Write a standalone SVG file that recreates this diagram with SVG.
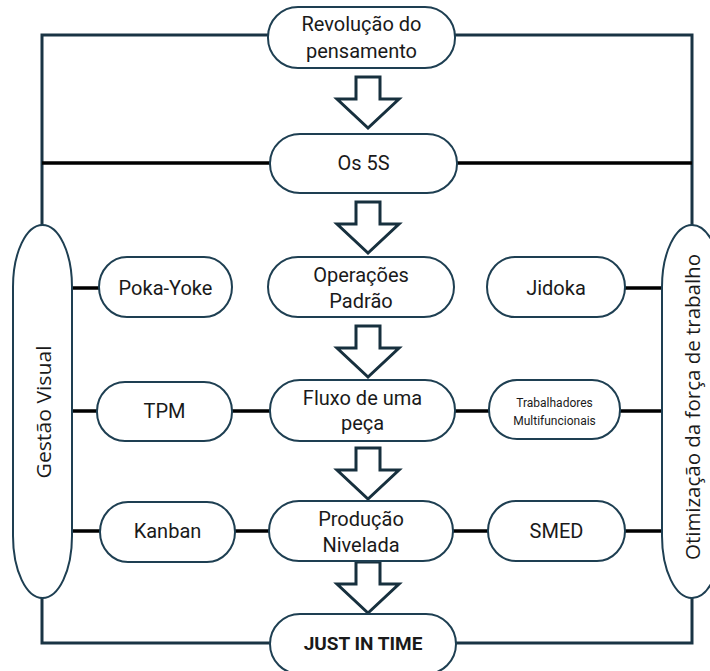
<svg xmlns="http://www.w3.org/2000/svg" width="710" height="671" viewBox="0 0 710 671">
  <style>
    .bg { fill: #ffffff; }
    .node { fill: #ffffff; stroke: #1e3f52; stroke-width: 2; }
    .pillar { fill: #ffffff; stroke: #1e3f52; stroke-width: 2; }
    .frame { fill: none; stroke: #1a3444; stroke-width: 3; }
    .link { fill: none; stroke: #000000; stroke-width: 3.5; }
    .flow { fill: #ffffff; stroke: #17303e; stroke-width: 3; stroke-linejoin: miter; }
    .lbl { font-family: Roboto, "Liberation Sans", sans-serif; font-size: 20px; fill: #1a1a1a; text-anchor: middle; }
    .small { font-size: 12px; }
    .bold { font-weight: bold; font-size: 19px; }
    .side { font-family: "Open Sans", "Liberation Sans", sans-serif; font-size: 20px; fill: #1a1a1a; text-anchor: middle; }
  </style>
  <defs>
    <!-- block arrow pointing down, origin at shaft top centre -->
    <path id="down" d="M-12,0 H12 V22 H31 L0,51 L-31,22 H-12 Z"/>
  </defs>
  <rect class="bg" width="710" height="671"/>

  <!-- connectors -->
  <g id="connectors">
    <path class="frame" d="M42,226 V35 H268 M455,35 H692 V226"/>
    <path class="frame" d="M42,597 V643 H270 M456,643 H692 V597"/>
    <path class="link" d="M42,163 H270 M457,163 H692"/>
    <path class="link" d="M72,288 H99 M625,288 H662"/>
    <path class="link" d="M72,411 H97 M232,411 H270 M455,411 H489 M620,411 H662"/>
    <path class="link" d="M72,531 H100 M235,531 H269 M453,531 H488 M625,531 H662"/>
    <use href="#down" class="flow" x="368" y="77"/>
    <use href="#down" class="flow" x="368" y="202"/>
    <use href="#down" class="flow" x="368" y="326"/>
    <use href="#down" class="flow" x="368" y="448"/>
    <use href="#down" class="flow" x="368" y="562"/>
  </g>

  <g id="gestao-visual">
    <rect class="pillar" x="13" y="225" width="59" height="373" rx="29.5" ry="62"/>
    <text class="side" transform="translate(51,412) rotate(-90)" textLength="133" lengthAdjust="spacingAndGlyphs">Gestão Visual</text>
  </g>
  <g id="otimizacao">
    <rect class="pillar" x="662" y="225" width="60" height="373" rx="30" ry="62"/>
    <text class="side" transform="translate(700,407) rotate(-90)" textLength="306" lengthAdjust="spacingAndGlyphs">Otimização da força de trabalho</text>
  </g>

  <g id="revolucao">
    <rect class="node" x="268" y="7" width="187" height="61" rx="30" ry="30"/>
    <text class="lbl" x="361.5" y="31">Revolução do</text>
    <text class="lbl" x="361.5" y="58">pensamento</text>
  </g>
  <g id="os5s">
    <rect class="node" x="270" y="134" width="187" height="59" rx="30" ry="29"/>
    <text class="lbl" x="363.5" y="170">Os 5S</text>
  </g>
  <g id="poka-yoke">
    <rect class="node" x="99" y="257" width="133" height="60" rx="28" ry="30"/>
    <text class="lbl" x="165.5" y="295">Poka-Yoke</text>
  </g>
  <g id="operacoes">
    <rect class="node" x="268" y="257" width="186" height="60" rx="30" ry="30"/>
    <text class="lbl" x="361" y="282">Operações</text>
    <text class="lbl" x="361" y="308">Padrão</text>
  </g>
  <g id="jidoka">
    <rect class="node" x="487" y="257" width="138" height="60" rx="28" ry="30"/>
    <text class="lbl" x="556" y="295">Jidoka</text>
  </g>
  <g id="tpm">
    <rect class="node" x="97" y="382" width="135" height="59" rx="28" ry="29"/>
    <text class="lbl" x="164.5" y="418">TPM</text>
  </g>
  <g id="fluxo">
    <rect class="node" x="270" y="380" width="185" height="61" rx="30" ry="30"/>
    <text class="lbl" x="362.5" y="405">Fluxo de uma</text>
    <text class="lbl" x="362.5" y="430">peça</text>
  </g>
  <g id="trabalhadores">
    <rect class="node" x="489" y="380" width="131" height="59" rx="28" ry="29"/>
    <text class="lbl small" x="554.5" y="407">Trabalhadores</text>
    <text class="lbl small" x="554.5" y="425">Multifuncionais</text>
  </g>
  <g id="kanban">
    <rect class="node" x="100" y="502" width="135" height="60" rx="28" ry="30"/>
    <text class="lbl" x="167.5" y="538">Kanban</text>
  </g>
  <g id="producao">
    <rect class="node" x="269" y="501" width="184" height="60" rx="30" ry="30"/>
    <text class="lbl" x="361" y="526">Produção</text>
    <text class="lbl" x="361" y="552">Nivelada</text>
  </g>
  <g id="smed">
    <rect class="node" x="488" y="501" width="137" height="60" rx="28" ry="30"/>
    <text class="lbl" x="556.5" y="538">SMED</text>
  </g>
  <g id="just-in-time">
    <rect class="node" x="270" y="614" width="186" height="60" rx="30" ry="30"/>
    <text class="lbl bold" x="363" y="650">JUST IN TIME</text>
  </g>
</svg>
